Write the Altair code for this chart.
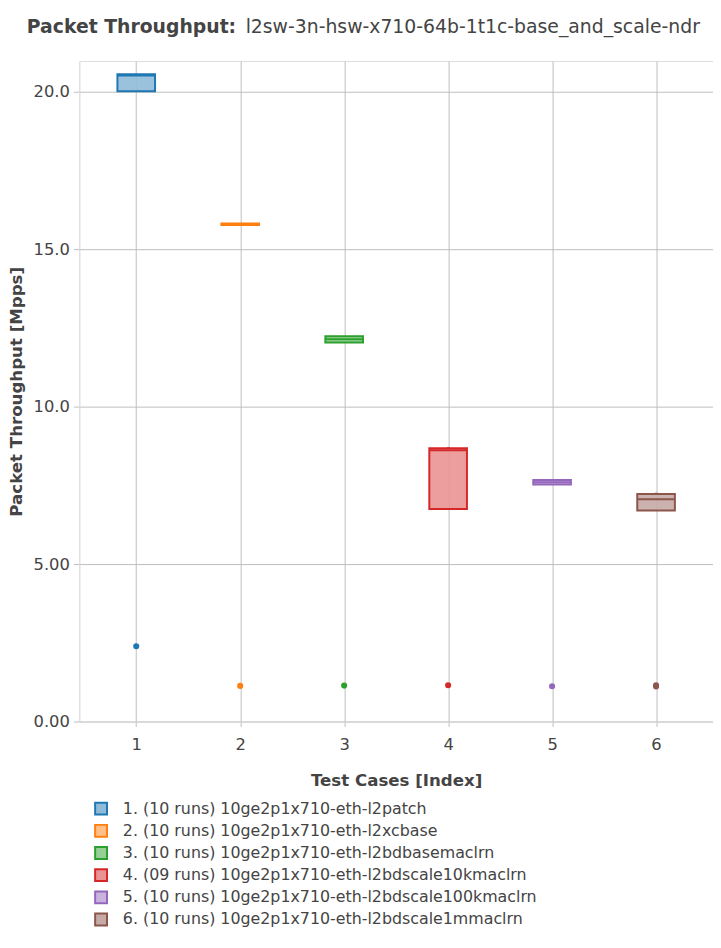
import altair as alt
import pandas as pd

# ---- data ----
test_index = [1, 2, 3, 4, 5, 6]
test_labels = [
    "1. (10 runs) 10ge2p1x710-eth-l2patch",
    "2. (10 runs) 10ge2p1x710-eth-l2xcbase",
    "3. (10 runs) 10ge2p1x710-eth-l2bdbasemaclrn",
    "4. (09 runs) 10ge2p1x710-eth-l2bdscale10kmaclrn",
    "5. (10 runs) 10ge2p1x710-eth-l2bdscale100kmaclrn",
    "6. (10 runs) 10ge2p1x710-eth-l2bdscale1mmaclrn",
]
colors = ["#1f77b4", "#ff7f0e", "#2ca02c", "#d62728", "#9467bd", "#8c564b"]
q1 = [20.02, 15.77, 12.04, 6.75, 7.53, 6.70]
median = [20.52, 15.80, 12.14, 8.62, 7.60, 7.06]
q3 = [20.56, 15.82, 12.24, 8.68, 7.67, 7.23]
whisker_high = [20.57, 15.83, 12.25, 8.72, 7.70, 7.27]
outlier_index = [1, 2, 3, 4, 5, 6, 6]
outlier_value = [2.39, 1.13, 1.14, 1.15, 1.12, 1.11, 1.15]
y_ticks = [0, 5, 10, 15, 20]
y_tick_labels = ["0.00", "5.00", "10.0", "15.0", "20.0"]
title_bold = "Packet Throughput:"
title_rest = "l2sw-3n-hsw-x710-64b-1t1c-base_and_scale-ndr"
x_title = "Test Cases [Index]"
y_title = "Packet Throughput [Mpps]"

FONT = "DejaVu Sans"
TXT = "#444444"
GRID = "#bdbdbd"
LIGHT = "#dedede"


def half_tint(hex_color):
    r, g, b = (int(hex_color[i:i + 2], 16) for i in (1, 3, 5))
    return "#{:02x}{:02x}{:02x}".format(*((c + 255) // 2 for c in (r, g, b)))


fill_colors = [half_tint(c) for c in colors]

boxes = pd.DataFrame({
    "idx": test_index, "label": test_labels, "q1": q1,
    "median": median, "q3": q3, "hi": whisker_high,
})
outliers = pd.DataFrame({
    "idx": outlier_index,
    "label": [test_labels[i - 1] for i in outlier_index],
    "value": outlier_value,
})

label_expr = " : ".join(
    f"datum.value == {v} ? '{t}'" for v, t in zip(y_ticks, y_tick_labels)
) + " : ''"

xscale = alt.Scale(domain=[0.5, 6.5], nice=False, zero=False)
yscale = alt.Scale(domain=[0, 20.98], nice=False, zero=False)
sscale = alt.Scale(domain=test_labels, range=colors)
fscale = alt.Scale(domain=test_labels, range=fill_colors)

xaxis = alt.Axis(
    values=test_index, format="d", title=x_title, grid=True, gridColor=GRID,
    gridWidth=1, ticks=True, tickSize=5, tickColor=GRID, domain=True,
    domainColor=LIGHT, labelFontSize=16.5, labelColor=TXT,
    labelPadding=10, titleFontSize=16.8, titleColor=TXT, titleFontWeight="bold",
    titlePadding=20, labelFont=FONT, titleFont=FONT,
)
yaxis = alt.Axis(
    values=y_ticks, title=y_title, grid=True, gridColor=GRID, gridWidth=1,
    ticks=True, tickSize=6, tickColor=GRID, domain=True, domainColor=LIGHT,
    labelExpr=label_expr, labelFontSize=16.5, labelColor=TXT, labelPadding=4,
    titleFontSize=16.8, titleColor=TXT, titleFontWeight="bold", titlePadding=8,
    labelFont=FONT, titleFont=FONT,
)

legend = alt.Legend(
    title=None, orient="none", legendX=14, legendY=747, direction="vertical",
    symbolType="square", symbolSize=144, symbolStrokeWidth=2,
    labelFontSize=16, labelColor=TXT, labelFont=FONT, rowPadding=2.4,
    labelOffset=14, labelLimit=600,
)

base = alt.Chart(boxes)

box = base.mark_bar(size=38, orient="vertical", fillOpacity=0.9, strokeWidth=2).encode(
    x=alt.X("idx:Q", scale=xscale, axis=xaxis),
    y=alt.Y("q1:Q", scale=yscale, axis=yaxis),
    y2="q3:Q",
    fill=alt.Fill("label:N", scale=fscale, legend=legend),
    stroke=alt.Stroke("label:N", scale=sscale, legend=legend),
)

med = base.mark_bar(size=38, orient="vertical", fillOpacity=0, strokeWidth=2).encode(
    x=alt.X("idx:Q", scale=xscale),
    y=alt.Y("median:Q", scale=yscale),
    y2="median:Q",
    stroke=alt.Stroke("label:N", scale=sscale, legend=legend),
)

whisk = base.mark_rule(strokeWidth=2).encode(
    x=alt.X("idx:Q", scale=xscale),
    y=alt.Y("q3:Q", scale=yscale),
    y2="hi:Q",
    stroke=alt.Stroke("label:N", scale=sscale, legend=legend),
)

pts = alt.Chart(outliers).mark_circle(size=38, opacity=1).encode(
    x=alt.X("idx:Q", scale=xscale),
    y=alt.Y("value:Q", scale=yscale),
    color=alt.Color("label:N", scale=sscale, legend=None),
)

tdf = pd.DataFrame({"a": [title_bold], "b": [title_rest]})
t1 = alt.Chart(tdf).mark_text(
    align="left", baseline="alphabetic", font=FONT, fontSize=19,
    fontWeight="bold", color=TXT,
).encode(text="a:N", x=alt.value(-53), y=alt.value(-28))
t2 = alt.Chart(tdf).mark_text(
    align="left", baseline="alphabetic", font=FONT, fontSize=19,
    fontWeight="normal", color=TXT,
).encode(text="b:N", x=alt.value(168), y=alt.value(-28))

chart = alt.layer(whisk, box, med, pts, t1, t2).properties(
    width=640, height=667,
    autosize=alt.AutoSizeParams(type="none"),
    padding={"left": 72, "top": 49, "right": 0, "bottom": 206},
).configure_view(stroke=None).configure(background="white")

chart.save("out.html", embed_options={"renderer": "svg", "actions": False})
